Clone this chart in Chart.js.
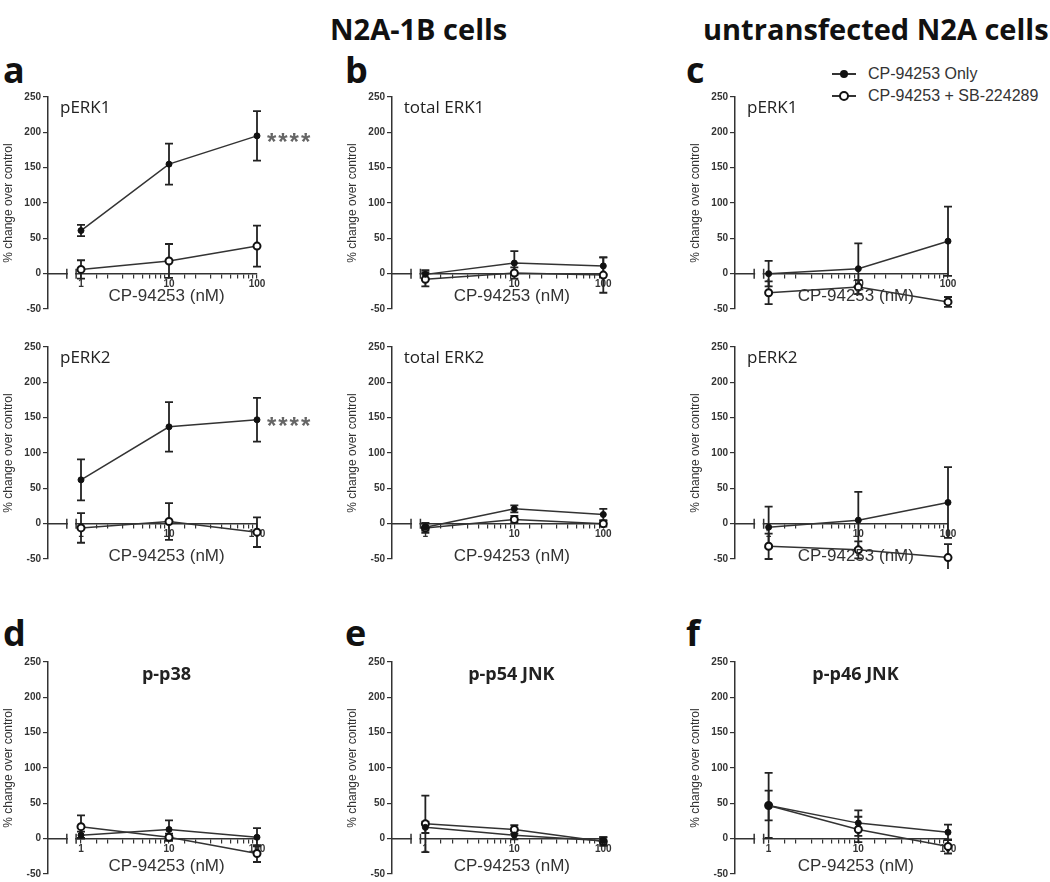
<!DOCTYPE html>
<html>
<head>
<meta charset="utf-8">
<script src="https://cdn.jsdelivr.net/npm/chart.js@4.4.1/dist/chart.umd.min.js"></script>
<style>
  body { margin: 0; background: #fff; width: 1050px; height: 882px; overflow: hidden; position: relative; color: #222; }
  canvas { position: absolute; }
  .hdr { position: absolute; font-family: 'Open Sans'; font-weight: 700; font-size: 29px; line-height: 1; white-space: nowrap; color: #111; }
  .letter { position: absolute; font-family: 'Open Sans'; font-weight: 700; font-size: 36px; line-height: 1; color: #111; }
  .ptitle { position: absolute; font-family: 'Open Sans'; font-size: 17px; line-height: 1; white-space: nowrap; color: #222; }
  .ptitle.bold { font-weight: 700; font-size: 18px; transform: translateX(-50%); }
  .leg { position: absolute; left: 830px; font-family: 'Liberation Sans', Arial, sans-serif; font-size: 16px; line-height: 1; color: #333; white-space: nowrap; }
  .leg .ln { position: absolute; left: 2px; top: 7px; width: 24px; height: 2px; background: #333; }
  .leg .dot { position: absolute; left: 10px; top: 4px; width: 8px; height: 8px; border-radius: 50%; background: #111; }
  .leg .dot.open { left: 9px; top: 3px; width: 6px; height: 6px; background: #fff; border: 2px solid #111; }
  .leg span { position: absolute; left: 38px; top: 0; }
</style>
</head>
<body>
<div class="hdr" style="left:330px; top:14px;">N2A-1B cells</div>
<div class="hdr" style="left:703px; top:14px;">untransfected N2A cells</div>

<div class="letter" style="left:3px; top:52px;">a</div>
<div class="letter" style="left:345px; top:52px;">b</div>
<div class="letter" style="left:686px; top:52px;">c</div>
<div class="letter" style="left:3px; top:615px;">d</div>
<div class="letter" style="left:345px; top:615px;">e</div>
<div class="letter" style="left:686px; top:615px;">f</div>

<div class="leg" style="top:66px;"><div class="ln"></div><div class="dot"></div><span>CP-94253 Only</span></div>
<div class="leg" style="top:88px;"><div class="ln"></div><div class="dot open"></div><span>CP-94253 + SB-224289</span></div>

<script>
// doses on the log x axis
const doses = [1, 10, 100];
const xTickLabels = ['1', '10', '100'];
const yTicks = [-50, 0, 50, 100, 150, 200, 250];

// a: N2A-1B, pERK1
const aERK1Only = [61, 155, 195];
const aERK1OnlyErr = [8, 29, 35];
const aERK1Sb = [6, 18, 39];
const aERK1SbErr = [13, 24, 29];

// a: N2A-1B, pERK2
const aERK2Only = [62, 137, 147];
const aERK2OnlyErr = [29, 35, 31];
const aERK2Sb = [-6, 3, -12];
const aERK2SbErr = [21, 26, 21];

// b: N2A-1B, total ERK1
const bERK1Only = [-1, 15, 11];
const bERK1OnlyErr = [6, 17, 12];
const bERK1Sb = [-8, 1, -2];
const bERK1SbErr = [10, 8, 25];

// b: N2A-1B, total ERK2
const bERK2Only = [-5, 21, 13];
const bERK2OnlyErr = [5, 5, 8];
const bERK2Sb = [-6, 6, 0];
const bERK2SbErr = [7, 5, 4];

// c: untransfected, pERK1
const cERK1Only = [0, 7, 46];
const cERK1OnlyErr = [18, 36, 49];
const cERK1Sb = [-27, -19, -40];
const cERK1SbErr = [16, 10, 7];

// c: untransfected, pERK2
const cERK2Only = [-5, 5, 30];
const cERK2OnlyErr = [29, 40, 50];
const cERK2Sb = [-32, -37, -48];
const cERK2SbErr = [18, 12, 19];

// d: p-p38
const dP38Only = [5, 13, 2];
const dP38OnlyErr = [5, 13, 13];
const dP38Sb = [17, 2, -21];
const dP38SbErr = [16, 5, 12];

// e: p-p54 JNK
const eP54Only = [16, 5, -3];
const eP54OnlyErr = [8, 6, 5];
const eP54Sb = [21, 13, -4];
const eP54SbErr = [40, 6, 6];

// f: p-p46 JNK
const fP46Only = [47, 22, 9];
const fP46OnlyErr = [21, 18, 11];
const fP46Sb = [47, 13, -11];
const fP46SbErr = [46, 18, 10];

const seriesNames = ['CP-94253 Only', 'CP-94253 + SB-224289'];

// page layout (pixels)
const cols = [{ axis: 48, right: 257 }, { axis: 391.7, right: 603 }, { axis: 735, right: 948 }];
const rows = [
  { top: 97, bottom: 309, titleOff: 23 },
  { top: 346.7, bottom: 558.7, titleOff: 33 },
  { top: 661.7, bottom: 873.7, titleOff: 28 }
];
const Y_W = 47, PAD_T = 10, PAD_B = 10, PAD_R = 60;
const X_MIN = Math.pow(10, -0.375);
const BREAK_LO = 0.69, BREAK_HI = 0.88;

const panels = [
  { row: 0, col: 0, title: 'pERK1', only: aERK1Only, onlyErr: aERK1OnlyErr, sb: aERK1Sb, sbErr: aERK1SbErr, stars: true },
  { row: 1, col: 0, title: 'pERK2', only: aERK2Only, onlyErr: aERK2OnlyErr, sb: aERK2Sb, sbErr: aERK2SbErr, stars: true },
  { row: 0, col: 1, title: 'total ERK1', only: bERK1Only, onlyErr: bERK1OnlyErr, sb: bERK1Sb, sbErr: bERK1SbErr },
  { row: 1, col: 1, title: 'total ERK2', only: bERK2Only, onlyErr: bERK2OnlyErr, sb: bERK2Sb, sbErr: bERK2SbErr },
  { row: 0, col: 2, title: 'pERK1', only: cERK1Only, onlyErr: cERK1OnlyErr, sb: cERK1Sb, sbErr: cERK1SbErr },
  { row: 1, col: 2, title: 'pERK2', only: cERK2Only, onlyErr: cERK2OnlyErr, sb: cERK2Sb, sbErr: cERK2SbErr },
  { row: 2, col: 0, title: 'p-p38', bold: true, only: dP38Only, onlyErr: dP38OnlyErr, sb: dP38Sb, sbErr: dP38SbErr },
  { row: 2, col: 1, title: 'p-p54 JNK', bold: true, only: eP54Only, onlyErr: eP54OnlyErr, sb: eP54Sb, sbErr: eP54SbErr },
  { row: 2, col: 2, title: 'p-p46 JNK', bold: true, only: fP46Only, onlyErr: fP46OnlyErr, sb: fP46Sb, sbErr: fP46SbErr }
];

Chart.defaults.font.family = "'Liberation Sans', Arial, sans-serif";
Chart.defaults.color = '#333';

// error bars, axis break, x title and significance stars
const deco = {
  id: 'deco',
  beforeDatasetsDraw(chart, args, opts) {
    const { ctx } = chart;
    const x = chart.scales.x, y = chart.scales.y;
    const y0 = y.getPixelForValue(0);
    const bl = x.getPixelForValue(BREAK_LO), bh = x.getPixelForValue(BREAK_HI);
    ctx.save();
    ctx.fillStyle = '#fff';
    ctx.fillRect(bl + 1, y0 - 3, bh - bl - 2, 6);
    ctx.strokeStyle = '#333';
    ctx.lineWidth = 1.5;
    ctx.beginPath();
    [bl, bh].forEach(px => { ctx.moveTo(px, y0 - 5); ctx.lineTo(px, y0 + 5); });
    ctx.stroke();

    ctx.strokeStyle = '#222';
    ctx.lineWidth = 1.8;
    chart.data.datasets.forEach(ds => {
      ds.data.forEach((p, i) => {
        const e = ds.errors[i];
        const px = x.getPixelForValue(p.x);
        const hi = y.getPixelForValue(p.y + e), lo = y.getPixelForValue(p.y - e);
        ctx.beginPath();
        ctx.moveTo(px, hi); ctx.lineTo(px, lo);
        ctx.moveTo(px - 4, hi); ctx.lineTo(px + 4, hi);
        ctx.moveTo(px - 4, lo); ctx.lineTo(px + 4, lo);
        ctx.stroke();
      });
    });
    ctx.restore();
  },
  afterDatasetsDraw(chart, args, opts) {
    const { ctx } = chart;
    const x = chart.scales.x, y = chart.scales.y;
    const y0 = y.getPixelForValue(0);
    const bh = x.getPixelForValue(BREAK_HI);
    ctx.save();
    ctx.fillStyle = '#333';
    ctx.font = "17px 'Liberation Sans', Arial, sans-serif";
    ctx.textAlign = 'center';
    ctx.textBaseline = 'middle';
    ctx.fillText('CP-94253 (nM)', (bh + x.right) / 2, y0 + opts.titleOff);
    if (opts.stars) {
      const p = chart.data.datasets[0].data[2];
      const px = x.getPixelForValue(p.x) + 10, py = y.getPixelForValue(p.y);
      ctx.fillStyle = '#666';
      ctx.font = "bold 24px 'Liberation Sans', Arial, sans-serif";
      ctx.textAlign = 'left';
      ctx.textBaseline = 'alphabetic';
      for (let i = 0; i < 4; i++) ctx.fillText('*', px + i * 11.3, py + 14);
    }
    ctx.restore();
  }
};

const toPoints = vals => doses.map((d, i) => ({ x: d, y: vals[i] }));

panels.forEach(p => {
  const c = cols[p.col], r = rows[p.row];
  const cv = document.createElement('canvas');
  const left = c.axis - Y_W;
  const w = Y_W + (c.right - c.axis) + PAD_R;
  const h = (r.bottom - r.top) + PAD_T + PAD_B;
  cv.width = Math.round(w);
  cv.height = Math.round(h);
  cv.style.left = left + 'px';
  cv.style.top = (r.top - PAD_T) + 'px';
  document.body.appendChild(cv);

  new Chart(cv, {
    type: 'line',
    data: {
      datasets: [
        {
          label: seriesNames[0], data: toPoints(p.only), errors: p.onlyErr,
          borderColor: '#333', borderWidth: 1.5,
          pointRadius: 3, pointBackgroundColor: '#111', pointBorderColor: '#111', pointBorderWidth: 1,
          clip: false
        },
        {
          label: seriesNames[1], data: toPoints(p.sb), errors: p.sbErr,
          borderColor: '#333', borderWidth: 1.5,
          pointRadius: 3.5, pointBackgroundColor: '#fff', pointBorderColor: '#111', pointBorderWidth: 2,
          clip: false
        }
      ]
    },
    options: {
      responsive: false,
      animation: false,
      layout: { padding: { left: 0, top: PAD_T, right: PAD_R + (cv.width - w), bottom: PAD_B } },
      plugins: {
        legend: { display: false },
        tooltip: { enabled: false },
        deco: { titleOff: r.titleOff, stars: !!p.stars }
      },
      scales: {
        x: {
          type: 'logarithmic',
          position: { y: 0 },
          min: X_MIN,
          max: 100,
          afterBuildTicks: s => { s.ticks = s.ticks.filter(t => t.value >= 1 && t.value <= 100); },
          ticks: {
            autoSkip: false, maxRotation: 0, padding: 1,
            font: { size: 10, weight: 'bold' },
            callback: v => { const i = doses.indexOf(v); return i >= 0 ? xTickLabels[i] : ''; }
          },
          grid: { drawOnChartArea: false, tickLength: 4, color: '#333', lineWidth: 1.2 },
          border: { color: '#333', width: 1.5 }
        },
        y: {
          min: yTicks[0],
          max: yTicks[yTicks.length - 1],
          afterFit: s => { s.width = Y_W; },
          afterBuildTicks: s => { s.ticks = yTicks.map(v => ({ value: v })); },
          ticks: { padding: 2, font: { size: 10, weight: 'bold' } },
          title: { display: true, text: '% change over control', font: { size: 12 }, padding: 0 },
          grid: { drawOnChartArea: false, tickLength: 5, color: '#333', lineWidth: 1.2 },
          border: { color: '#333', width: 1.5 }
        }
      }
    },
    plugins: [deco]
  });

  const t = document.createElement('div');
  t.className = 'ptitle' + (p.bold ? ' bold' : '');
  t.textContent = p.title;
  if (p.bold) {
    t.style.left = ((c.axis + 28 + c.right) / 2) + 'px';
    t.style.top = (r.top + 2) + 'px';
  } else {
    t.style.left = (c.axis + 12) + 'px';
    t.style.top = (r.top + 1) + 'px';
  }
  document.body.appendChild(t);
});
</script>
</body>
</html>
